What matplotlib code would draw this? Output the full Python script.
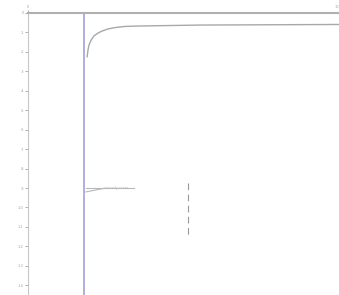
import matplotlib
matplotlib.use("Agg")
import matplotlib.pyplot as plt
import numpy as np

# saturating curve
curve_x = [1.90, 1.93, 1.96, 2.03, 2.12, 2.25, 2.38, 2.57, 2.80, 3.12, 3.54, 5.53, 10.0]
curve_y = [-2.26, -1.90, -1.65, -1.39, -1.18, -1.03, -0.93, -0.82, -0.75, -0.69, -0.67, -0.62, -0.59]

vline_x = 1.80
marker_x = [1.86, 2.50, 3.40]
marker_y = [-9.2, -9.0, -9.0]
dash_x = 5.14
dash_y = [-8.74, -11.57]

yticks = list(range(0, -15, -1))
xticks = [0, 10]

fig = plt.figure(figsize=(3.39, 2.95), dpi=100)
ax = fig.add_axes([28/339, 0.0, 1 - 28/339, 1 - 13/295])

ax.plot(curve_x, curve_y, color='#a8a8a8', lw=1.0, solid_capstyle='round')
ax.axvline(vline_x, color='#9a9ad2', lw=1.1)
ax.plot([marker_x[0], marker_x[1]], [marker_y[0], marker_y[1]], color='#b8b8b8', lw=0.8)
ax.plot([marker_x[0], marker_x[2]], [marker_y[1], marker_y[2]], color='#b8b8b8', lw=0.8)
ax.text(marker_x[1], marker_y[1], 'steady state', fontsize=2.5, color='#b8b8b8',
        va='center', ha='left')
ax.plot([dash_x, dash_x], dash_y, color='#999999', lw=0.8, ls=(0, (6, 4)))

ax.set_xlim(0, 10)
ax.set_ylim(-14.5, 0)
ax.set_yticks(yticks)
ax.set_yticklabels([str(t) for t in yticks])
ax.set_xticks(xticks)
ax.set_xticklabels([str(t) for t in xticks])
ax.xaxis.tick_top()
ax.tick_params(axis='both', labelsize=2.5, colors='#a0a0a0', length=2, width=0.6, pad=1)
ax.get_xticklabels()[-1].set_horizontalalignment('right')

ax.spines['bottom'].set_visible(False)
ax.spines['right'].set_visible(False)
ax.spines['top'].set_color('#b0b0b0')
ax.spines['top'].set_linewidth(1.5)
ax.spines['left'].set_color('#c8c8c8')
ax.spines['left'].set_linewidth(0.8)

fig.savefig('out.png', dpi=100)
